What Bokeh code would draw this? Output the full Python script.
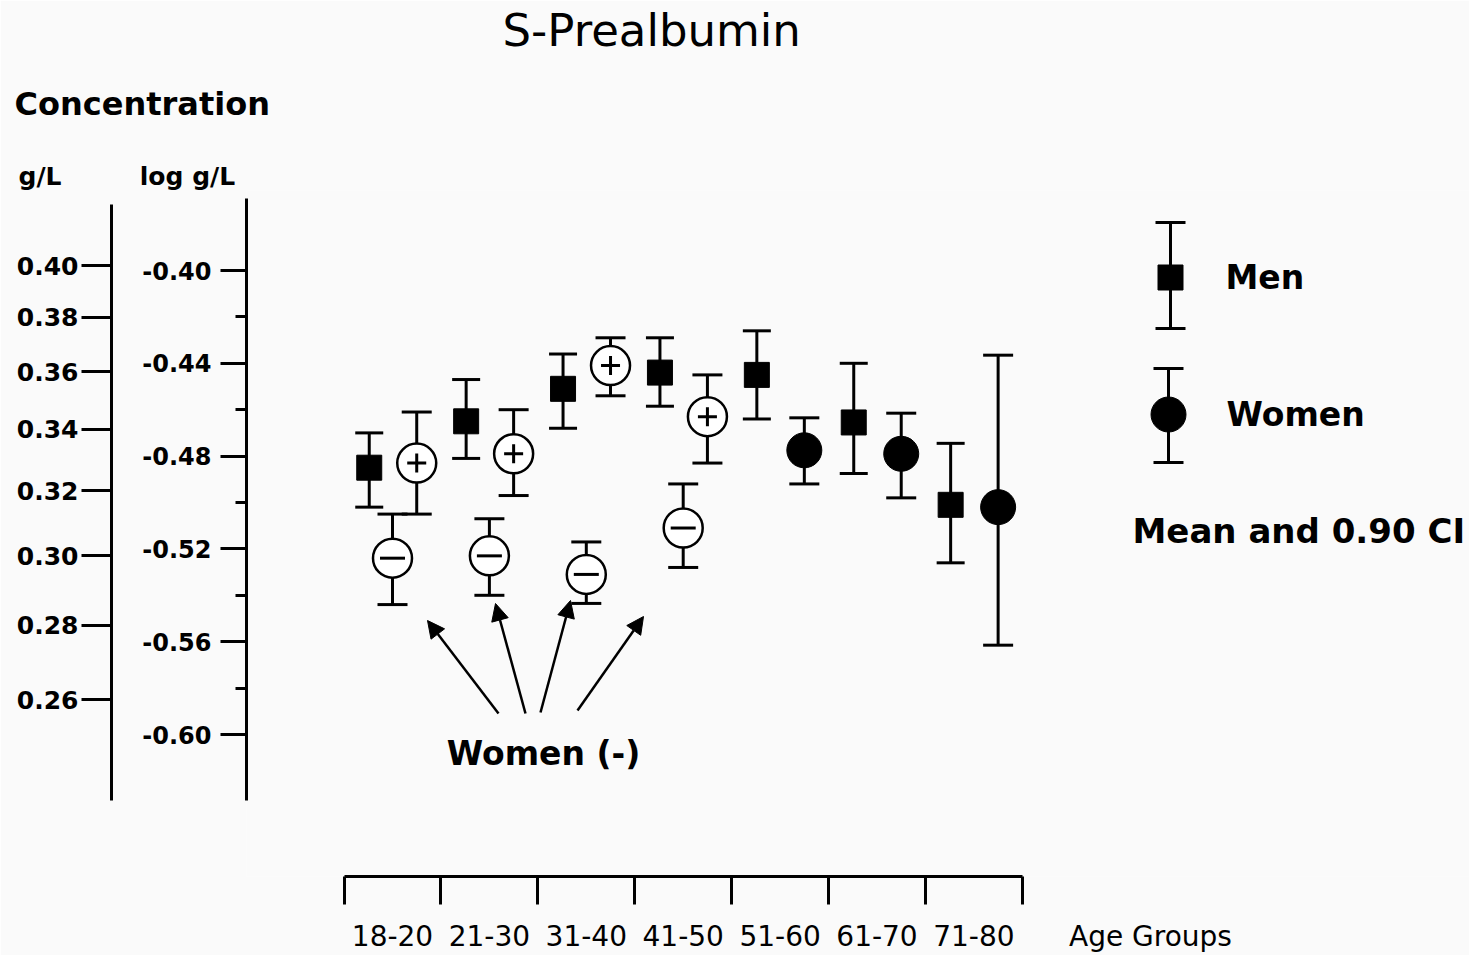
import numpy as np
from bokeh.plotting import figure
from bokeh.models import (Range1d, LinearAxis, FixedTicker, CustomJSTickFormatter,
                          NumeralTickFormatter, ColumnDataSource, Whisker, TeeHead,
                          Label, Arrow, NormalHead, Title)
from bokeh.embed import file_html
from bokeh.resources import INLINE

# ---------------- data (log10 g/L) ----------------
age_groups = ["18-20", "21-30", "31-40", "41-50", "51-60", "61-70", "71-80"]

men_mean = [-0.485, -0.465, -0.451, -0.444, -0.445, -0.4655, -0.501]
men_lo   = [-0.502, -0.481, -0.468, -0.4585, -0.464, -0.4875, -0.526]
men_hi   = [-0.470, -0.447, -0.436, -0.429, -0.426, -0.440, -0.4745]

wplus_groups = [0, 1, 2, 3]
wplus_mean = [-0.483, -0.479, -0.441, -0.463]
wplus_lo   = [-0.505, -0.497, -0.454, -0.483]
wplus_hi   = [-0.461, -0.460, -0.429, -0.445]

wminus_groups = [0, 1, 2, 3]
wminus_mean = [-0.524, -0.523, -0.531, -0.511]
wminus_lo   = [-0.544, -0.540, -0.5435, -0.528]
wminus_hi   = [-0.505, -0.507, -0.517, -0.492]

women_groups = [4, 5, 6]
women_mean = [-0.4775, -0.479, -0.502]
women_lo   = [-0.492, -0.498, -0.5615]
women_hi   = [-0.4635, -0.4615, -0.4365]

log_ticks = [-0.40, -0.44, -0.48, -0.52, -0.56, -0.60]
log_minor = [-0.42, -0.46, -0.50, -0.54, -0.58]
gl_ticks = [0.40, 0.38, 0.36, 0.34, 0.32, 0.30, 0.28, 0.26]

# ---------------- layout helpers ----------------
W, H = 1469, 955
FL, FR, FT, FB = 246, 1469, 190, 876
GX0, GDX = 392.0, 96.9            # pixel of group-0 centre, pixels per group
YREF, YPX = 270.0, 2320.0         # pixel of -0.40, pixels per log unit

def px2x(px):
    return (px - GX0) / GDX

def px2y(py):
    return -0.40 - (py - YREF) / YPX

X0, X1 = px2x(FL), px2x(FR)
Y0, Y1 = px2y(FB), px2y(FT)

BG = "#fafafa"
FONT = "DejaVu Sans"

p = figure(width=W, height=H, x_range=Range1d(X0, X1), y_range=Range1d(Y0, Y1),
           x_axis_type=None, y_axis_type=None, output_backend="svg",
           toolbar_location=None, min_border_left=FL, min_border_right=0,
           min_border_top=FT, min_border_bottom=H - FB)
p.background_fill_color = BG
p.border_fill_color = BG
p.outline_line_color = None

# ---------------- titles (stacked above the frame, nearest first) ----------------
NB = "\u00a0"

def head(text, left_px, size, bold, standoff=0):
    p.add_layout(Title(text=text, align="left", offset=left_px - FL, standoff=standoff,
                       text_font=FONT, text_font_size=f"{size}px",
                       text_font_style="bold" if bold else "normal",
                       text_color="black"), "above")

def spacer(standoff):
    p.add_layout(Title(text=NB, standoff=standoff, text_font_size="2px",
                       text_color=BG), "above")

head("g/L" + NB * 9 + "log g/L", 18, 25, True)
spacer(33)
head("Concentration", 14, 32, True)
spacer(22)
head("S-Prealbumin", 502, 45, False)

# ---------------- axes ----------------
log_axis = LinearAxis(ticker=FixedTicker(ticks=log_ticks, minor_ticks=log_minor),
                      formatter=NumeralTickFormatter(format="0.00"),
                      bounds=(px2y(800), px2y(198)))
log_axis.axis_line_width = 3
log_axis.major_tick_line_width = 3
log_axis.minor_tick_line_width = 3
log_axis.major_tick_out = 26
log_axis.major_tick_in = 0
log_axis.minor_tick_out = 11
log_axis.minor_tick_in = 0
log_axis.major_label_standoff = 9
log_axis.major_label_text_font = FONT
log_axis.major_label_text_font_style = "bold"
log_axis.major_label_text_font_size = "24px"
log_axis.major_label_text_color = "black"
log_axis.axis_label = " "
log_axis.axis_label_text_font_size = "20px"
log_axis.axis_label_standoff = 3
p.add_layout(log_axis, "left")

gl_axis = LinearAxis(ticker=FixedTicker(ticks=list(np.log10(gl_ticks)), minor_ticks=[]),
                     formatter=CustomJSTickFormatter(code="return Math.pow(10, tick).toFixed(2);"),
                     bounds=(px2y(800), px2y(204)))
gl_axis.axis_line_width = 3
gl_axis.major_tick_line_width = 3
gl_axis.major_tick_out = 30
gl_axis.major_tick_in = 0
gl_axis.minor_tick_out = 0
gl_axis.minor_tick_in = 0
gl_axis.major_label_standoff = 3
gl_axis.major_label_text_font = FONT
gl_axis.major_label_text_font_style = "bold"
gl_axis.major_label_text_font_size = "25px"
gl_axis.major_label_text_color = "black"
p.add_layout(gl_axis, "left")

centers = list(range(len(age_groups)))
group_edges = [c - 0.5 for c in centers] + [centers[-1] + 0.5]

# axis line with group boundary ticks
x_line = LinearAxis(ticker=FixedTicker(ticks=group_edges, minor_ticks=[]),
                    formatter=CustomJSTickFormatter(code="return '';"),
                    bounds=(group_edges[0], group_edges[-1]))
x_line.axis_line_width = 3
x_line.major_tick_line_width = 3
x_line.major_tick_out = 28
x_line.major_tick_in = 0
x_line.minor_tick_out = 0
x_line.minor_tick_in = 0
x_line.major_label_standoff = 0
x_line.major_label_text_font_size = "1px"
p.add_layout(x_line, "below")

# group labels centred between the boundary ticks, plus the axis name
AGE_TITLE_X = px2x(1150)
x_lab = LinearAxis(ticker=FixedTicker(ticks=centers + [AGE_TITLE_X], minor_ticks=[]),
                   formatter=CustomJSTickFormatter(
                       args=dict(labels=age_groups, name="Age Groups"),
                       code="return tick < labels.length - 0.5 ? labels[Math.round(tick)] : name;"))
x_lab.axis_line_color = None
x_lab.major_tick_line_color = None
x_lab.minor_tick_line_color = None
x_lab.major_tick_out = 0
x_lab.major_tick_in = 0
x_lab.minor_tick_out = 0
x_lab.minor_tick_in = 0
x_lab.major_label_standoff = 15
x_lab.major_label_text_font = FONT
x_lab.major_label_text_font_size = "28px"
x_lab.major_label_text_color = "black"
p.add_layout(x_lab, "below")

# ---------------- marks ----------------
OFF_MEN, OFF_WOMEN = -0.24, 0.25

def whisker(xs, lo, hi, cap=30):
    src = ColumnDataSource(dict(x=xs, lo=lo, hi=hi))
    w = Whisker(source=src, base="x", lower="lo", upper="hi", dimension="height",
                line_width=3, line_color="black",
                upper_head=TeeHead(size=cap, line_width=3, line_color="black"),
                lower_head=TeeHead(size=cap, line_width=3, line_color="black"))
    p.add_layout(w)

men_x = [c + OFF_MEN for c in centers]
wplus_x = [g + OFF_WOMEN for g in wplus_groups]
wminus_x = [float(g) for g in wminus_groups]
women_x = [g + OFF_WOMEN for g in women_groups]

whisker(men_x, men_lo, men_hi, 28)
whisker(wplus_x, wplus_lo, wplus_hi, 30)
whisker(wminus_x, wminus_lo, wminus_hi, 30)
whisker(women_x, women_lo, women_hi, 30)

p.scatter(men_x, men_mean, marker="square", size=25, color="black")
p.scatter(women_x, women_mean, marker="circle", size=35, color="black")
p.scatter(wplus_x, wplus_mean, marker="circle", size=39, fill_color="white",
          line_color="black", line_width=2.5)
p.scatter(wplus_x, wplus_mean, marker="cross", size=19, line_color="black", line_width=3)
p.scatter(wminus_x, wminus_mean, marker="circle", size=39, fill_color="white",
          line_color="black", line_width=2.5)
p.scatter(wminus_x, wminus_mean, marker="dash", size=25, line_color="black", line_width=3)

# ---------------- legend (drawn) ----------------
whisker([px2x(1170)], [px2y(328)], [px2y(222)], 30)
whisker([px2x(1168)], [px2y(462)], [px2y(368)], 30)
p.scatter([px2x(1170)], [px2y(277)], marker="square", size=25, color="black")
p.scatter([px2x(1168)], [px2y(414)], marker="circle", size=35, color="black")

# ---------------- arrows ----------------
arrow_px = [((498, 713), (427, 620)), ((525, 713), (495, 603)),
            ((540, 712), (570, 600)), ((577, 710), (643, 616))]
for (xs, ys), (xe, ye) in arrow_px:
    p.add_layout(Arrow(end=NormalHead(size=17, fill_color="black", line_color="black",
                                      line_width=1),
                       x_start=px2x(xs), y_start=px2y(ys), x_end=px2x(xe), y_end=px2y(ye),
                       line_width=2.5, line_color="black"))

# ---------------- texts inside the frame ----------------
def label(text, xp, yp, size, bold=False, align="left"):
    p.add_layout(Label(x=px2x(xp), y=px2y(yp), text=text, text_align=align,
                       text_baseline="middle", text_font=FONT,
                       text_font_size=f"{size}px",
                       text_font_style="bold" if bold else "normal",
                       text_color="black"))

label("Men", 1225, 277, 33, bold=True)
label("Women", 1226, 414, 33, bold=True)
label("Mean and 0.90 CI", 1132, 530, 34, bold=True)
label("Women (-)", 543, 753, 33, bold=True, align="center")

open("out.html", "w").write(file_html(p, INLINE))
